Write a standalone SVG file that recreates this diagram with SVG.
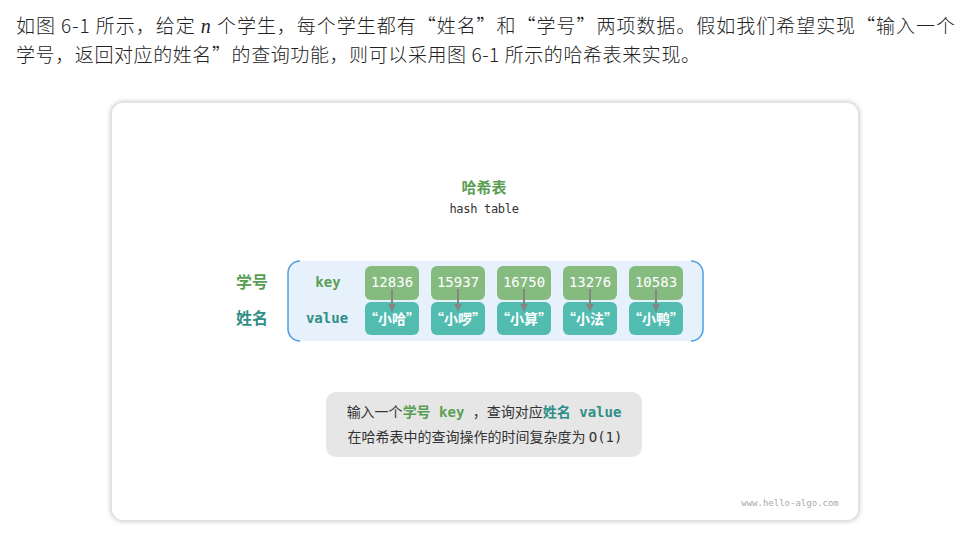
<svg xmlns="http://www.w3.org/2000/svg" width="965" height="543" viewBox="0 0 965 543">
<defs>
<filter id="sh" x="-5%" y="-5%" width="110%" height="110%"><feDropShadow dx="0" dy="0" stdDeviation="2" flood-color="#000" flood-opacity="0.18"/></filter>
<marker id="ah" viewBox="0 0 10 10" refX="9" refY="5" markerWidth="4" markerHeight="4" orient="auto"><path d="M0,0 L10,5 L0,10 z" fill="#858585"/></marker>
<style>
.para{font-family:"Noto Sans CJK SC","Liberation Serif",sans-serif;font-size:19px;font-weight:300;fill:#222}
.cjk{font-family:"Noto Sans CJK SC",sans-serif}
.mono{font-family:"DejaVu Sans Mono","Liberation Mono",monospace}
.kbox{fill:#86bb7f}
.vbox{fill:#52bcb1}
.ktxt{font-family:"DejaVu Sans Mono",monospace;font-size:14px;fill:#fff;text-anchor:middle}
.vtxt{font-family:"Noto Sans CJK SC",sans-serif;font-size:14px;font-weight:bold;fill:#fff;text-anchor:middle}
.arr{stroke:#858585;stroke-width:2;fill:none;marker-end:url(#ah)}
.green{fill:#5a9e53}
.teal{fill:#2f8f86}
.dark{fill:#333}
</style>
</defs>
<rect width="965" height="543" fill="#fff"/>
<text class="para" x="16" y="33" textLength="939" lengthAdjust="spacing">如图 6-1 所示，给定 <tspan font-family="Liberation Serif" font-style="italic" font-size="20">n</tspan> 个学生，每个学生都有“姓名”和“学号”两项数据。假如我们希望实现“输入一个</text>
<text class="para" x="16" y="62" textLength="684" lengthAdjust="spacing">学号，返回对应的姓名”的查询功能，则可以采用图 6-1 所示的哈希表来实现。</text>

<g id="card">
<rect x="111" y="102" width="748" height="419" rx="12" fill="#fff" stroke="#e2e2e2" stroke-width="2" filter="url(#sh)"/>
</g>

<g id="title">
<text class="cjk green" x="484" y="193" font-size="15" font-weight="bold" text-anchor="middle">哈希表</text>
<text class="mono dark" x="484" y="213" font-size="12" text-anchor="middle" letter-spacing="-0.3">hash table</text>
</g>

<g id="table">
<rect x="288" y="261" width="415" height="80" rx="12" fill="#e6f1fb"/>
<path d="M300 261 A12 12 0 0 0 288 273 L288 329 A12 12 0 0 0 300 341" fill="none" stroke="#4d9de0" stroke-width="1.5"/>
<path d="M691 261 A12 12 0 0 1 703 273 L703 329 A12 12 0 0 1 691 341" fill="none" stroke="#4d9de0" stroke-width="1.5"/>
</g>

<g id="labels">
<text class="cjk green" x="252" y="288" font-size="16" font-weight="bold" text-anchor="middle">学号</text>
<text class="cjk teal" x="252" y="324" font-size="16" font-weight="bold" text-anchor="middle">姓名</text>
<text class="mono green" x="328" y="287" font-size="14" font-weight="bold" text-anchor="middle">key</text>
<text class="mono teal" x="327" y="323" font-size="14" font-weight="bold" text-anchor="middle">value</text>
</g>

<g id="k1"><rect class="kbox" x="365" y="266" width="54" height="34" rx="6"/><text class="ktxt" x="392" y="287">12836</text></g>
<g id="k2"><rect class="kbox" x="431" y="266" width="54" height="34" rx="6"/><text class="ktxt" x="458" y="287">15937</text></g>
<g id="k3"><rect class="kbox" x="497" y="266" width="54" height="34" rx="6"/><text class="ktxt" x="524" y="287">16750</text></g>
<g id="k4"><rect class="kbox" x="563" y="266" width="54" height="34" rx="6"/><text class="ktxt" x="590" y="287">13276</text></g>
<g id="k5"><rect class="kbox" x="629" y="266" width="54" height="34" rx="6"/><text class="ktxt" x="656" y="287">10583</text></g>

<g id="v1"><rect class="vbox" x="365" y="302" width="54" height="33" rx="6"/><text class="vtxt" x="392" y="324">“小哈”</text></g>
<g id="v2"><rect class="vbox" x="431" y="302" width="54" height="33" rx="6"/><text class="vtxt" x="458" y="324">“小啰”</text></g>
<g id="v3"><rect class="vbox" x="497" y="302" width="54" height="33" rx="6"/><text class="vtxt" x="524" y="324">“小算”</text></g>
<g id="v4"><rect class="vbox" x="563" y="302" width="54" height="33" rx="6"/><text class="vtxt" x="590" y="324">“小法”</text></g>
<g id="v5"><rect class="vbox" x="629" y="302" width="54" height="33" rx="6"/><text class="vtxt" x="656" y="324">“小鸭”</text></g>

<g id="connectors">
<line class="arr" x1="392" y1="289" x2="392" y2="311"/>
<line class="arr" x1="458" y1="289" x2="458" y2="311"/>
<line class="arr" x1="524" y1="289" x2="524" y2="311"/>
<line class="arr" x1="590" y1="289" x2="590" y2="311"/>
<line class="arr" x1="656" y1="289" x2="656" y2="311"/>
</g>

<g id="note">
<rect x="326" y="392" width="316" height="65" rx="10" fill="#e6e6e6"/>
<text x="484" y="417" font-size="14" text-anchor="middle" class="cjk dark">输入一个<tspan class="green" font-weight="bold">学号</tspan><tspan class="mono green" font-weight="bold"> key </tspan> ，查询对应<tspan class="teal" font-weight="bold">姓名</tspan><tspan class="mono teal" font-weight="bold"> value</tspan></text>
<text x="485" y="442" font-size="14" text-anchor="middle" class="cjk dark">在哈希表中的查询操作的时间复杂度为 <tspan class="mono"> O(1)</tspan></text>
</g>

<g id="watermark">
<text class="mono" x="790" y="506" font-size="9" fill="#aaa" text-anchor="middle">www.hello-algo.com</text>
</g>
</svg>
